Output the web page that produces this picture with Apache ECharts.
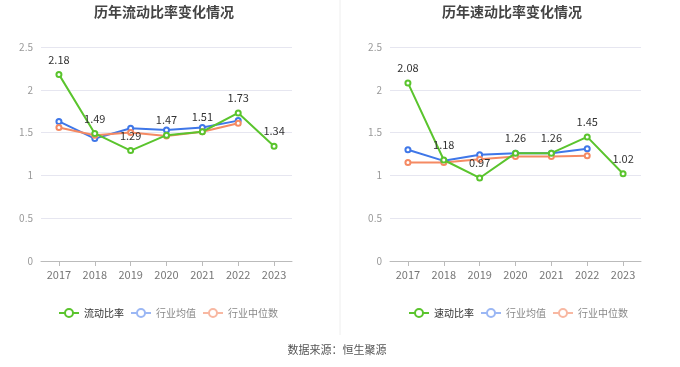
<!DOCTYPE html>
<html><head><meta charset="utf-8">
<script src="https://cdn.jsdelivr.net/npm/echarts@6/dist/echarts.min.js"></script>
<style>html,body{margin:0;padding:0;background:#fff}#c{width:680px;height:367px}</style>
</head><body><div id="c"></div>
<script>
const years = ['2017','2018','2019','2020','2021','2022','2023'];
const yTicks = [0, 0.5, 1, 1.5, 2, 2.5];
const currentRatio = [2.18, 1.49, 1.29, 1.47, 1.51, 1.73, 1.34];
const currentAvg = [1.63, 1.43, 1.55, 1.53, 1.56, 1.64, null];
const currentMedian = [1.56, 1.47, 1.50, 1.46, 1.51, 1.61, null];
const quickRatio = [2.08, 1.18, 0.97, 1.26, 1.26, 1.45, 1.02];
const quickAvg = [1.30, 1.17, 1.24, 1.26, 1.26, 1.31, null];
const quickMedian = [1.15, 1.15, 1.19, 1.22, 1.22, 1.23, null];

const GREEN = '#5ac42d', BLUE = '#3f77e8', ORANGE = '#f58a63';
const font = '"Noto Sans CJK SC", "Noto Sans", sans-serif';

function xAxis(i){return {type:'category',gridIndex:i,data:years,boundaryGap:true,
  axisLine:{lineStyle:{color:'#bbb'}},axisTick:{show:true,alignWithLabel:true,lineStyle:{color:'#bbb'}},
  axisLabel:{color:'#777',fontSize:11,margin:8,fontFamily:font}};}
function yAxis(i){return {type:'value',gridIndex:i,min:0,max:2.5,interval:0.5,
  axisLine:{show:false},axisTick:{show:false},
  axisLabel:{color:'#999',fontSize:10,fontFamily:font,formatter:v=>String(v)},
  splitLine:{lineStyle:{color:'#e6e6f0'}}};}
function mainSeries(name,data,i){return {name,type:'line',xAxisIndex:i,yAxisIndex:i,data,
  color:GREEN,lineStyle:{width:2,color:GREEN},symbol:'emptyCircle',symbolSize:5,
  itemStyle:{color:GREEN,borderWidth:1.5},z:3,
  label:{show:true,position:'top',distance:6,color:'#333',fontSize:11,fontFamily:font,formatter:p=>p.value.toFixed(2)}};}
function sideSeries(name,data,i,c){return {name,type:'line',xAxisIndex:i,yAxisIndex:i,data,
  color:c,lineStyle:{width:2,color:c},symbol:'emptyCircle',symbolSize:5,
  itemStyle:{color:c,borderWidth:1.5},z:2};}
function legend(left,first){return {left,top:308,padding:0,itemWidth:20,itemHeight:10,itemGap:6,
  textStyle:{fontSize:10,fontFamily:font,color:'#888'},
  data:[{name:first,textStyle:{color:'#333'}},
        {name:'行业均值',itemStyle:{color:'#9bb7f4',borderColor:'#9bb7f4'},lineStyle:{color:'#9bb7f4'}},
        {name:'行业中位数',itemStyle:{color:'#f8b8a2',borderColor:'#f8b8a2'},lineStyle:{color:'#f8b8a2'}}]};}

const chart = echarts.init(document.getElementById('c'));
chart.setOption({
  animation:false,
  title:[
    {text:'历年流动比率变化情况',left:164,top:1,padding:[4,0],textAlign:'center',textStyle:{fontSize:14,fontWeight:'bold',color:'#444',fontFamily:font}},
    {text:'历年速动比率变化情况',left:512,top:1,padding:[4,0],textAlign:'center',textStyle:{fontSize:14,fontWeight:'bold',color:'#444',fontFamily:font}},
    {text:'数据来源：恒生聚源',left:337,top:344,padding:0,textAlign:'center',textStyle:{fontSize:11,fontWeight:'normal',color:'#555',fontFamily:font}}
  ],
  legend:[legend(58,'流动比率'),legend(408,'速动比率')],
  grid:[{left:41,top:47,width:251,height:214},{left:390,top:47,width:251,height:214}],
  xAxis:[xAxis(0),xAxis(1)],
  yAxis:[yAxis(0),yAxis(1)],
  graphic:[{type:'line',shape:{x1:340,y1:0,x2:340,y2:335},style:{stroke:'#eee',lineWidth:1}}],
  series:[
    mainSeries('流动比率',currentRatio,0),
    sideSeries('行业均值',currentAvg,0,BLUE),
    sideSeries('行业中位数',currentMedian,0,ORANGE),
    mainSeries('速动比率',quickRatio,1),
    sideSeries('行业均值',quickAvg,1,BLUE),
    sideSeries('行业中位数',quickMedian,1,ORANGE)
  ]
});
</script></body></html>
